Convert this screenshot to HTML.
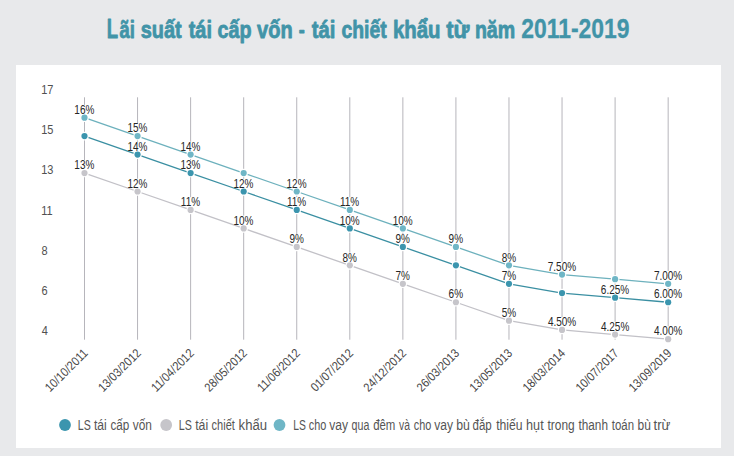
<!DOCTYPE html>
<html><head><meta charset="utf-8"><style>
html,body{margin:0;padding:0;background:#e8e9eb;width:734px;height:456px;overflow:hidden}
svg{display:block}
text{font-family:"Liberation Sans",sans-serif}
</style></head><body>
<svg width="734" height="456" viewBox="0 0 734 456">
<rect x="0" y="0" width="734" height="456" fill="#e8e9eb"/>
<rect x="16" y="65" width="705" height="383" fill="#fff"/>
<text transform="translate(106.71 37.50) scale(0.6749 1)" font-size="27.5" font-weight="bold" fill="#4194a8" stroke="#4194a8" stroke-width="0.8" stroke-linejoin="round">L</text>
<text transform="translate(119.42 37.50) scale(0.7728 1)" font-size="24.0" font-weight="bold" fill="#4194a8" stroke="#4194a8" stroke-width="0.8" stroke-linejoin="round">ãi</text>
<text transform="translate(140.71 37.50) scale(0.8299 1)" font-size="24.0" font-weight="bold" fill="#4194a8" stroke="#4194a8" stroke-width="0.8" stroke-linejoin="round">suất</text>
<text transform="translate(188.63 37.50) scale(0.8324 1)" font-size="24.0" font-weight="bold" fill="#4194a8" stroke="#4194a8" stroke-width="0.8" stroke-linejoin="round">tái</text>
<text transform="translate(217.51 37.50) scale(0.8222 1)" font-size="24.0" font-weight="bold" fill="#4194a8" stroke="#4194a8" stroke-width="0.8" stroke-linejoin="round">cấp</text>
<text transform="translate(257.03 37.50) scale(0.8367 1)" font-size="24.0" font-weight="bold" fill="#4194a8" stroke="#4194a8" stroke-width="0.8" stroke-linejoin="round">vốn</text>
<text transform="translate(298.84 37.50) scale(0.7526 1)" font-size="24.0" font-weight="bold" fill="#4194a8" stroke="#4194a8" stroke-width="0.8" stroke-linejoin="round">-</text>
<text transform="translate(311.64 37.50) scale(0.8470 1)" font-size="24.0" font-weight="bold" fill="#4194a8" stroke="#4194a8" stroke-width="0.8" stroke-linejoin="round">tái</text>
<text transform="translate(341.42 37.50) scale(0.8097 1)" font-size="24.0" font-weight="bold" fill="#4194a8" stroke="#4194a8" stroke-width="0.8" stroke-linejoin="round">chiết</text>
<text transform="translate(392.97 37.50) scale(0.8498 1)" font-size="24.0" font-weight="bold" fill="#4194a8" stroke="#4194a8" stroke-width="0.8" stroke-linejoin="round">khẩu</text>
<text transform="translate(446.17 37.50) scale(0.9161 1)" font-size="24.0" font-weight="bold" fill="#4194a8" stroke="#4194a8" stroke-width="0.8" stroke-linejoin="round">từ</text>
<text transform="translate(474.90 37.50) scale(0.8160 1)" font-size="24.0" font-weight="bold" fill="#4194a8" stroke="#4194a8" stroke-width="0.8" stroke-linejoin="round">năm</text>
<text transform="translate(521.21 37.75) scale(0.8342 1)" font-size="27.5" font-weight="bold" fill="#4194a8" stroke="#4194a8" stroke-width="0.3" stroke-linejoin="round">2011-2019</text>
<text transform="translate(41.21 94.30) scale(0.8800 1)" font-size="12.5" fill="#505050">17</text>
<text transform="translate(41.21 134.37) scale(0.8800 1)" font-size="12.5" fill="#505050">15</text>
<text transform="translate(41.21 174.44) scale(0.8800 1)" font-size="12.5" fill="#505050">13</text>
<text transform="translate(41.21 214.51) scale(0.8800 1)" font-size="12.5" fill="#505050">11</text>
<text transform="translate(41.56 254.58) scale(0.8800 1)" font-size="12.5" fill="#505050">8</text>
<text transform="translate(41.38 294.65) scale(0.8800 1)" font-size="12.5" fill="#505050">6</text>
<text transform="translate(41.73 334.72) scale(0.8800 1)" font-size="12.5" fill="#505050">4</text>
<text transform="translate(77.87 430.20) scale(0.6843 1)" font-size="15.5" fill="#555">LS</text>
<text transform="translate(94.00 430.20) scale(0.7818 1)" font-size="15.5" fill="#555">tái</text>
<text transform="translate(110.53 430.20) scale(0.7538 1)" font-size="15.5" fill="#555">cấp</text>
<text transform="translate(132.70 430.20) scale(0.7670 1)" font-size="15.5" fill="#555">vốn</text>
<text transform="translate(178.76 430.20) scale(0.6902 1)" font-size="15.5" fill="#555">LS</text>
<text transform="translate(195.20 430.20) scale(0.7949 1)" font-size="15.5" fill="#555">tái</text>
<text transform="translate(211.56 430.20) scale(0.7119 1)" font-size="15.5" fill="#555">chiết</text>
<text transform="translate(238.58 430.20) scale(0.8467 1)" font-size="15.5" fill="#555">khẩu</text>
<text transform="translate(293.29 430.20) scale(0.6668 1)" font-size="15.5" fill="#555">LS</text>
<text transform="translate(308.86 430.20) scale(0.7036 1)" font-size="15.5" fill="#555">cho</text>
<text transform="translate(329.20 430.20) scale(0.7794 1)" font-size="15.5" fill="#555">vay</text>
<text transform="translate(351.57 430.20) scale(0.6869 1)" font-size="15.5" fill="#555">qua</text>
<text transform="translate(373.14 430.20) scale(0.7379 1)" font-size="15.5" fill="#555">đêm</text>
<text transform="translate(399.10 430.20) scale(0.6679 1)" font-size="15.5" fill="#555">và</text>
<text transform="translate(413.86 430.20) scale(0.7036 1)" font-size="15.5" fill="#555">cho</text>
<text transform="translate(434.20 430.20) scale(0.7794 1)" font-size="15.5" fill="#555">vay</text>
<text transform="translate(456.23 430.20) scale(0.7921 1)" font-size="15.5" fill="#555">bù</text>
<text transform="translate(472.54 430.20) scale(0.7435 1)" font-size="15.5" fill="#555">đắp</text>
<text transform="translate(496.20 430.20) scale(0.7880 1)" font-size="15.5" fill="#555">thiếu</text>
<text transform="translate(526.11 430.20) scale(0.8143 1)" font-size="15.5" fill="#555">hụt</text>
<text transform="translate(547.50 430.20) scale(0.7690 1)" font-size="15.5" fill="#555">trong</text>
<text transform="translate(578.50 430.20) scale(0.7595 1)" font-size="15.5" fill="#555">thanh</text>
<text transform="translate(611.80 430.20) scale(0.7373 1)" font-size="15.5" fill="#555">toán</text>
<text transform="translate(637.55 430.20) scale(0.7726 1)" font-size="15.5" fill="#555">bù</text>
<text transform="translate(653.50 430.20) scale(0.8506 1)" font-size="15.5" fill="#555">trừ</text>
<line x1="84.50" y1="97.3" x2="84.50" y2="339.7" stroke="#b6b5bb" stroke-width="1"/>
<line x1="137.56" y1="97.3" x2="137.56" y2="339.7" stroke="#b6b5bb" stroke-width="1"/>
<line x1="190.62" y1="97.3" x2="190.62" y2="339.7" stroke="#b6b5bb" stroke-width="1"/>
<line x1="243.68" y1="97.3" x2="243.68" y2="339.7" stroke="#b6b5bb" stroke-width="1"/>
<line x1="296.74" y1="97.3" x2="296.74" y2="339.7" stroke="#b6b5bb" stroke-width="1"/>
<line x1="349.80" y1="97.3" x2="349.80" y2="339.7" stroke="#b6b5bb" stroke-width="1"/>
<line x1="402.86" y1="97.3" x2="402.86" y2="339.7" stroke="#b6b5bb" stroke-width="1"/>
<line x1="455.92" y1="97.3" x2="455.92" y2="339.7" stroke="#b6b5bb" stroke-width="1"/>
<line x1="508.98" y1="97.3" x2="508.98" y2="339.7" stroke="#b6b5bb" stroke-width="1"/>
<line x1="562.04" y1="97.3" x2="562.04" y2="339.7" stroke="#b6b5bb" stroke-width="1"/>
<line x1="615.10" y1="97.3" x2="615.10" y2="339.7" stroke="#b6b5bb" stroke-width="1"/>
<line x1="668.16" y1="97.3" x2="668.16" y2="339.7" stroke="#b6b5bb" stroke-width="1"/>
<rect x="74.65" y="160.25" width="19.69" height="10.39" fill="#fff"/>
<rect x="127.71" y="178.71" width="19.69" height="10.39" fill="#fff"/>
<rect x="181.15" y="197.17" width="18.95" height="10.39" fill="#fff"/>
<rect x="233.83" y="215.63" width="19.69" height="10.39" fill="#fff"/>
<rect x="289.60" y="234.09" width="14.29" height="10.39" fill="#fff"/>
<rect x="342.58" y="252.55" width="14.44" height="10.39" fill="#fff"/>
<rect x="395.72" y="271.01" width="14.29" height="10.39" fill="#fff"/>
<rect x="448.78" y="289.47" width="14.29" height="10.39" fill="#fff"/>
<rect x="501.76" y="307.93" width="14.44" height="10.39" fill="#fff"/>
<rect x="547.79" y="317.16" width="28.50" height="10.39" fill="#fff"/>
<rect x="600.85" y="321.78" width="28.50" height="10.39" fill="#fff"/>
<rect x="653.91" y="326.39" width="28.50" height="10.39" fill="#fff"/>
<rect x="127.71" y="141.79" width="19.69" height="10.39" fill="#fff"/>
<rect x="180.77" y="160.25" width="19.69" height="10.39" fill="#fff"/>
<rect x="233.83" y="178.71" width="19.69" height="10.39" fill="#fff"/>
<rect x="287.27" y="197.17" width="18.95" height="10.39" fill="#fff"/>
<rect x="339.95" y="215.63" width="19.69" height="10.39" fill="#fff"/>
<rect x="395.72" y="234.09" width="14.29" height="10.39" fill="#fff"/>
<rect x="501.84" y="271.01" width="14.29" height="10.39" fill="#fff"/>
<rect x="601.01" y="284.86" width="28.19" height="10.39" fill="#fff"/>
<rect x="654.07" y="289.47" width="28.19" height="10.39" fill="#fff"/>
<rect x="74.65" y="104.87" width="19.69" height="10.39" fill="#fff"/>
<rect x="127.71" y="123.33" width="19.69" height="10.39" fill="#fff"/>
<rect x="180.77" y="141.79" width="19.69" height="10.39" fill="#fff"/>
<rect x="286.89" y="178.71" width="19.69" height="10.39" fill="#fff"/>
<rect x="340.33" y="197.17" width="18.95" height="10.39" fill="#fff"/>
<rect x="393.01" y="215.63" width="19.69" height="10.39" fill="#fff"/>
<rect x="448.78" y="234.09" width="14.29" height="10.39" fill="#fff"/>
<rect x="501.76" y="252.55" width="14.44" height="10.39" fill="#fff"/>
<rect x="547.95" y="261.78" width="28.19" height="10.39" fill="#fff"/>
<rect x="654.07" y="271.01" width="28.19" height="10.39" fill="#fff"/>
<polyline points="84.50,173.04 137.56,191.50 190.62,209.96 243.68,228.42 296.74,246.88 349.80,265.34 402.86,283.80 455.92,302.26 508.98,320.72 562.04,329.95 615.10,334.56 668.16,339.18" fill="none" stroke="#c2c1c7" stroke-width="1.3"/>
<circle cx="84.50" cy="173.04" r="4.3" fill="#fff"/>
<circle cx="84.50" cy="173.04" r="3.1" fill="#c6c5ca"/>
<circle cx="137.56" cy="191.50" r="4.3" fill="#fff"/>
<circle cx="137.56" cy="191.50" r="3.1" fill="#c6c5ca"/>
<circle cx="190.62" cy="209.96" r="4.3" fill="#fff"/>
<circle cx="190.62" cy="209.96" r="3.1" fill="#c6c5ca"/>
<circle cx="243.68" cy="228.42" r="4.3" fill="#fff"/>
<circle cx="243.68" cy="228.42" r="3.1" fill="#c6c5ca"/>
<circle cx="296.74" cy="246.88" r="4.3" fill="#fff"/>
<circle cx="296.74" cy="246.88" r="3.1" fill="#c6c5ca"/>
<circle cx="349.80" cy="265.34" r="4.3" fill="#fff"/>
<circle cx="349.80" cy="265.34" r="3.1" fill="#c6c5ca"/>
<circle cx="402.86" cy="283.80" r="4.3" fill="#fff"/>
<circle cx="402.86" cy="283.80" r="3.1" fill="#c6c5ca"/>
<circle cx="455.92" cy="302.26" r="4.3" fill="#fff"/>
<circle cx="455.92" cy="302.26" r="3.1" fill="#c6c5ca"/>
<circle cx="508.98" cy="320.72" r="4.3" fill="#fff"/>
<circle cx="508.98" cy="320.72" r="3.1" fill="#c6c5ca"/>
<circle cx="562.04" cy="329.95" r="4.3" fill="#fff"/>
<circle cx="562.04" cy="329.95" r="3.1" fill="#c6c5ca"/>
<circle cx="615.10" cy="334.56" r="4.3" fill="#fff"/>
<circle cx="615.10" cy="334.56" r="3.1" fill="#c6c5ca"/>
<circle cx="668.16" cy="339.18" r="4.3" fill="#fff"/>
<circle cx="668.16" cy="339.18" r="3.1" fill="#c6c5ca"/>
<polyline points="84.50,136.12 137.56,154.58 190.62,173.04 243.68,191.50 296.74,209.96 349.80,228.42 402.86,246.88 455.92,265.34 508.98,283.80 562.04,293.03 615.10,297.65 668.16,302.26" fill="none" stroke="#3a8fa2" stroke-width="1.3"/>
<circle cx="84.50" cy="136.12" r="4.3" fill="#fff"/>
<circle cx="84.50" cy="136.12" r="3.1" fill="#3b95ae"/>
<circle cx="137.56" cy="154.58" r="4.3" fill="#fff"/>
<circle cx="137.56" cy="154.58" r="3.1" fill="#3b95ae"/>
<circle cx="190.62" cy="173.04" r="4.3" fill="#fff"/>
<circle cx="190.62" cy="173.04" r="3.1" fill="#3b95ae"/>
<circle cx="243.68" cy="191.50" r="4.3" fill="#fff"/>
<circle cx="243.68" cy="191.50" r="3.1" fill="#3b95ae"/>
<circle cx="296.74" cy="209.96" r="4.3" fill="#fff"/>
<circle cx="296.74" cy="209.96" r="3.1" fill="#3b95ae"/>
<circle cx="349.80" cy="228.42" r="4.3" fill="#fff"/>
<circle cx="349.80" cy="228.42" r="3.1" fill="#3b95ae"/>
<circle cx="402.86" cy="246.88" r="4.3" fill="#fff"/>
<circle cx="402.86" cy="246.88" r="3.1" fill="#3b95ae"/>
<circle cx="455.92" cy="265.34" r="4.3" fill="#fff"/>
<circle cx="455.92" cy="265.34" r="3.1" fill="#3b95ae"/>
<circle cx="508.98" cy="283.80" r="4.3" fill="#fff"/>
<circle cx="508.98" cy="283.80" r="3.1" fill="#3b95ae"/>
<circle cx="562.04" cy="293.03" r="4.3" fill="#fff"/>
<circle cx="562.04" cy="293.03" r="3.1" fill="#3b95ae"/>
<circle cx="615.10" cy="297.65" r="4.3" fill="#fff"/>
<circle cx="615.10" cy="297.65" r="3.1" fill="#3b95ae"/>
<circle cx="668.16" cy="302.26" r="4.3" fill="#fff"/>
<circle cx="668.16" cy="302.26" r="3.1" fill="#3b95ae"/>
<polyline points="84.50,117.66 137.56,136.12 190.62,154.58 243.68,173.04 296.74,191.50 349.80,209.96 402.86,228.42 455.92,246.88 508.98,265.34 562.04,274.57 615.10,279.19 668.16,283.80" fill="none" stroke="#6db1bd" stroke-width="1.3"/>
<circle cx="84.50" cy="117.66" r="4.3" fill="#fff"/>
<circle cx="84.50" cy="117.66" r="3.1" fill="#6fb6c6"/>
<circle cx="137.56" cy="136.12" r="4.3" fill="#fff"/>
<circle cx="137.56" cy="136.12" r="3.1" fill="#6fb6c6"/>
<circle cx="190.62" cy="154.58" r="4.3" fill="#fff"/>
<circle cx="190.62" cy="154.58" r="3.1" fill="#6fb6c6"/>
<circle cx="243.68" cy="173.04" r="4.3" fill="#fff"/>
<circle cx="243.68" cy="173.04" r="3.1" fill="#6fb6c6"/>
<circle cx="296.74" cy="191.50" r="4.3" fill="#fff"/>
<circle cx="296.74" cy="191.50" r="3.1" fill="#6fb6c6"/>
<circle cx="349.80" cy="209.96" r="4.3" fill="#fff"/>
<circle cx="349.80" cy="209.96" r="3.1" fill="#6fb6c6"/>
<circle cx="402.86" cy="228.42" r="4.3" fill="#fff"/>
<circle cx="402.86" cy="228.42" r="3.1" fill="#6fb6c6"/>
<circle cx="455.92" cy="246.88" r="4.3" fill="#fff"/>
<circle cx="455.92" cy="246.88" r="3.1" fill="#6fb6c6"/>
<circle cx="508.98" cy="265.34" r="4.3" fill="#fff"/>
<circle cx="508.98" cy="265.34" r="3.1" fill="#6fb6c6"/>
<circle cx="562.04" cy="274.57" r="4.3" fill="#fff"/>
<circle cx="562.04" cy="274.57" r="3.1" fill="#6fb6c6"/>
<circle cx="615.10" cy="279.19" r="4.3" fill="#fff"/>
<circle cx="615.10" cy="279.19" r="3.1" fill="#6fb6c6"/>
<circle cx="668.16" cy="283.80" r="4.3" fill="#fff"/>
<circle cx="668.16" cy="283.80" r="3.1" fill="#6fb6c6"/>
<text transform="translate(74.33 169.24) scale(0.8000 1)" font-size="12.5" fill="#262626">13%</text>
<text transform="translate(127.39 187.70) scale(0.8000 1)" font-size="12.5" fill="#262626">12%</text>
<text transform="translate(180.82 206.16) scale(0.8000 1)" font-size="12.5" fill="#262626">11%</text>
<text transform="translate(233.51 224.62) scale(0.8000 1)" font-size="12.5" fill="#262626">10%</text>
<text transform="translate(289.43 243.08) scale(0.8000 1)" font-size="12.5" fill="#262626">9%</text>
<text transform="translate(342.57 261.54) scale(0.8000 1)" font-size="12.5" fill="#262626">8%</text>
<text transform="translate(395.55 280.00) scale(0.8000 1)" font-size="12.5" fill="#262626">7%</text>
<text transform="translate(448.61 298.46) scale(0.8000 1)" font-size="12.5" fill="#262626">6%</text>
<text transform="translate(501.75 316.92) scale(0.8000 1)" font-size="12.5" fill="#262626">5%</text>
<text transform="translate(547.93 326.15) scale(0.8000 1)" font-size="12.5" fill="#262626">4.50%</text>
<text transform="translate(600.99 330.76) scale(0.8000 1)" font-size="12.5" fill="#262626">4.25%</text>
<text transform="translate(654.05 335.38) scale(0.8000 1)" font-size="12.5" fill="#262626">4.00%</text>
<text transform="translate(127.39 150.78) scale(0.8000 1)" font-size="12.5" fill="#262626">14%</text>
<text transform="translate(180.45 169.24) scale(0.8000 1)" font-size="12.5" fill="#262626">13%</text>
<text transform="translate(233.51 187.70) scale(0.8000 1)" font-size="12.5" fill="#262626">12%</text>
<text transform="translate(286.94 206.16) scale(0.8000 1)" font-size="12.5" fill="#262626">11%</text>
<text transform="translate(339.63 224.62) scale(0.8000 1)" font-size="12.5" fill="#262626">10%</text>
<text transform="translate(395.55 243.08) scale(0.8000 1)" font-size="12.5" fill="#262626">9%</text>
<text transform="translate(501.67 280.00) scale(0.8000 1)" font-size="12.5" fill="#262626">7%</text>
<text transform="translate(600.84 293.85) scale(0.8000 1)" font-size="12.5" fill="#262626">6.25%</text>
<text transform="translate(653.90 298.46) scale(0.8000 1)" font-size="12.5" fill="#262626">6.00%</text>
<text transform="translate(74.33 113.86) scale(0.8000 1)" font-size="12.5" fill="#262626">16%</text>
<text transform="translate(127.39 132.32) scale(0.8000 1)" font-size="12.5" fill="#262626">15%</text>
<text transform="translate(180.45 150.78) scale(0.8000 1)" font-size="12.5" fill="#262626">14%</text>
<text transform="translate(286.57 187.70) scale(0.8000 1)" font-size="12.5" fill="#262626">12%</text>
<text transform="translate(340.00 206.16) scale(0.8000 1)" font-size="12.5" fill="#262626">11%</text>
<text transform="translate(392.69 224.62) scale(0.8000 1)" font-size="12.5" fill="#262626">10%</text>
<text transform="translate(448.61 243.08) scale(0.8000 1)" font-size="12.5" fill="#262626">9%</text>
<text transform="translate(501.75 261.54) scale(0.8000 1)" font-size="12.5" fill="#262626">8%</text>
<text transform="translate(547.78 270.77) scale(0.8000 1)" font-size="12.5" fill="#262626">7.50%</text>
<text transform="translate(653.90 280.00) scale(0.8000 1)" font-size="12.5" fill="#262626">7.00%</text>
<text transform="translate(88.40 354.20) rotate(-45) scale(0.8866 1) translate(-61.127 0)" font-size="12.5" fill="#474747">10/10/2011</text>
<text transform="translate(141.46 354.20) rotate(-45) scale(0.8731 1) translate(-62.054 0)" font-size="12.5" fill="#474747">13/03/2012</text>
<text transform="translate(194.52 354.20) rotate(-45) scale(0.8866 1) translate(-61.127 0)" font-size="12.5" fill="#474747">11/04/2012</text>
<text transform="translate(247.58 354.20) rotate(-45) scale(0.8704 1) translate(-62.054 0)" font-size="12.5" fill="#474747">28/05/2012</text>
<text transform="translate(300.64 354.20) rotate(-45) scale(0.8866 1) translate(-61.127 0)" font-size="12.5" fill="#474747">11/06/2012</text>
<text transform="translate(353.70 354.20) rotate(-45) scale(0.8676 1) translate(-62.054 0)" font-size="12.5" fill="#474747">01/07/2012</text>
<text transform="translate(406.76 354.20) rotate(-45) scale(0.8704 1) translate(-62.054 0)" font-size="12.5" fill="#474747">24/12/2012</text>
<text transform="translate(459.82 354.20) rotate(-45) scale(0.8704 1) translate(-62.054 0)" font-size="12.5" fill="#474747">26/03/2013</text>
<text transform="translate(512.88 354.20) rotate(-45) scale(0.8731 1) translate(-62.054 0)" font-size="12.5" fill="#474747">13/05/2013</text>
<text transform="translate(565.94 354.20) rotate(-45) scale(0.8704 1) translate(-62.250 0)" font-size="12.5" fill="#474747">18/03/2014</text>
<text transform="translate(619.00 354.20) rotate(-45) scale(0.8731 1) translate(-62.054 0)" font-size="12.5" fill="#474747">10/07/2017</text>
<text transform="translate(672.06 354.20) rotate(-45) scale(0.8731 1) translate(-62.054 0)" font-size="12.5" fill="#474747">13/09/2019</text>
<circle cx="65" cy="425" r="5.9" fill="#3b95ae"/>
<circle cx="166.2" cy="425" r="5.9" fill="#c6c5ca"/>
<circle cx="279.5" cy="425" r="5.9" fill="#6fb6c6"/>
</svg>
</body></html>
